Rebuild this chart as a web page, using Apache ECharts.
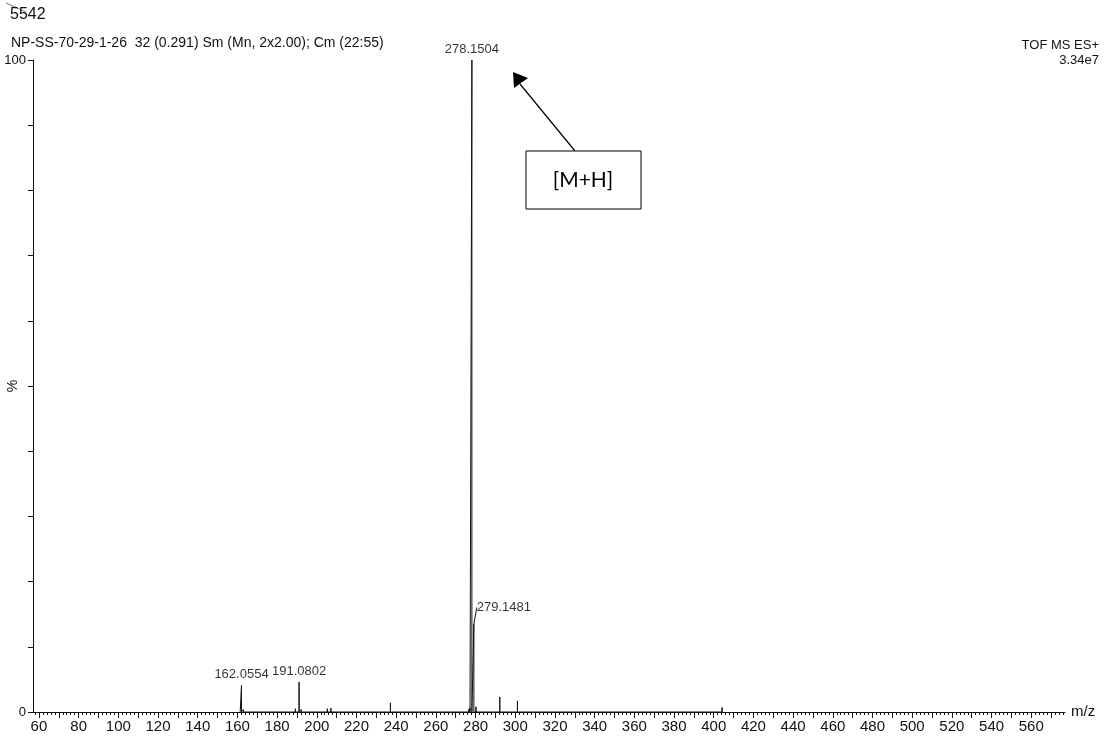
<!DOCTYPE html>
<html>
<head>
<meta charset="utf-8">
<script src="https://cdn.jsdelivr.net/npm/echarts@6/dist/echarts.min.js"></script>
<style>
  html, body { margin: 0; padding: 0; background: #fff; }
  #ms { width: 1110px; height: 746px; }
</style>
</head>
<body>
<div id="ms"></div>
<script>
// peak list (m/z, relative intensity %)
var peakMz     = [161.4, 162.0554, 163.0, 189.2, 191.0802, 192.1, 205.3, 207.1, 237.1, 276.6, 277.2, 278.1504, 279.1481, 280.2, 292.2, 293.2, 301.1, 404.2];
var peakHeight = [0.3,   4.1,      0.4,   0.5,   4.6,      0.4,   0.5,   0.6,   1.4,   0.4,   0.6,   100,      13.5,     0.8,   2.3,   0.3,   1.7,   0.7];

// peaks with their m/z printed
var labelMz    = [162.0554, 191.0802, 278.1504, 279.1481];
var labelH     = [4.1, 4.6, 100, 13.5];
var labelText  = ['162.0554', '191.0802', '278.1504', '279.1481'];

var xTickLabels = [60, 80, 100, 120, 140, 160, 180, 200, 220, 240, 260, 280, 300, 320, 340, 360, 380, 400, 420, 440, 460, 480, 500, 520, 540, 560];
var xMin = 57, xMax = 577;

var sticks = [];
peakMz.forEach(function (mz, i) {
    sticks.push([mz, 0], [mz, peakHeight[i]], [mz, 0]);
});

var majorTicks = [], minorTicks = [];
for (var t = 60; t <= 576; t += 10) majorTicks.push(t);
for (var m = 58; m <= 576; m += 2) if (m % 10 !== 0) minorTicks.push(m);

var ink = '#111';
var font = '"Liberation Sans", Arial, sans-serif';

mychart = echarts.init(document.getElementById('ms'));

option = {
    animation: false,
    textStyle: { fontFamily: font, color: ink },
    grid: { left: 33, right: 45, top: 60, bottom: 34, outerBoundsMode: 'none', containLabel: false },
    title: [
        { text: '5542', left: 5, top: 2, textStyle: { fontSize: 16, fontWeight: 'normal', color: ink, fontFamily: font } },
        { text: 'NP-SS-70-29-1-26  32 (0.291) Sm (Mn, 2x2.00); Cm (22:55)', left: 6, top: 31, textStyle: { fontSize: 14, fontWeight: 'normal', color: ink, fontFamily: font } },
        { text: 'TOF MS ES+', right: 6, top: 34, textStyle: { fontSize: 13, fontWeight: 'normal', color: ink, fontFamily: font } },
        { text: '3.34e7', right: 6, top: 49, textStyle: { fontSize: 13, fontWeight: 'normal', color: ink, fontFamily: font } }
    ],
    xAxis: [
        {
            type: 'value', min: xMin, max: xMax,
            name: 'm/z', nameLocation: 'end', nameGap: 6,
            nameTextStyle: { fontSize: 15, color: ink, verticalAlign: 'top', padding: [-8, 0, 0, 0] },
            axisLine: { lineStyle: { color: ink, width: 1 } },
            axisTick: { customValues: majorTicks, length: 6, lineStyle: { color: ink } },
            axisLabel: { customValues: xTickLabels, fontSize: 15, color: ink, margin: 7 },
            splitLine: { show: false }
        },
        {
            type: 'value', min: xMin, max: xMax, position: 'bottom',
            axisLine: { show: false },
            axisTick: { customValues: minorTicks, length: 3, lineStyle: { color: ink } },
            axisLabel: { show: false },
            splitLine: { show: false }
        }
    ],
    yAxis: {
        type: 'value', min: 0, max: 100, interval: 10,
        name: '%', nameLocation: 'middle', nameGap: 13, nameRotate: 90, nameMoveOverlap: false,
        nameTextStyle: { fontSize: 14, color: ink },
        axisLine: { show: true, lineStyle: { color: ink, width: 1 } },
        axisTick: { show: true, length: 5, lineStyle: { color: ink } },
        axisLabel: {
            fontSize: 13, color: ink, margin: 7,
            formatter: function (v) { return (v === 0 || v === 100) ? v : ''; }
        },
        splitLine: { show: false }
    },
    series: [
        {
            type: 'line',
            data: sticks,
            showSymbol: false,
            silent: true,
            lineStyle: { color: ink, width: 1 }
        },
        {
            type: 'scatter',
            data: labelMz.map(function (mz, i) {
                var item = { value: [mz, labelH[i], labelText[i]] };
                if (i === 3) item.labelLine = { show: true, lineStyle: { color: ink, width: 1 } };
                return item;
            }),
            symbolSize: 0,
            silent: true,
            label: {
                show: true, position: 'top', distance: 4,
                fontSize: 13, color: '#000',
                formatter: function (p) { return p.value[2]; }
            },
            labelLine: { show: false },
            labelLayout: function (p) {
                if (p.dataIndex === 3) return { dx: 30, dy: -6 };
                return {};
            }
        }
    ],
    graphic: [
        { type: 'line', shape: { x1: 6, y1: 3, x2: 26, y2: 12 }, style: { stroke: '#777', lineWidth: 1 } },
        { type: 'line', shape: { x1: 575, y1: 151, x2: 520, y2: 84 }, style: { stroke: '#000', lineWidth: 1.2 } },
        { type: 'polygon', shape: { points: [[513, 72], [514, 88], [528, 78]] }, style: { fill: '#000' } },
        { type: 'rect', shape: { x: 526, y: 151, width: 115, height: 58 }, style: { fill: '#fff', stroke: '#000', lineWidth: 1 } },
        { type: 'text', x: 583, y: 180, style: { text: '[M+H]', fontSize: 21, fontFamily: 'Lato, "Open Sans", sans-serif', fill: '#000', align: 'center', verticalAlign: 'middle' } }
    ]
};

mychart.setOption(option);
</script>
</body>
</html>
